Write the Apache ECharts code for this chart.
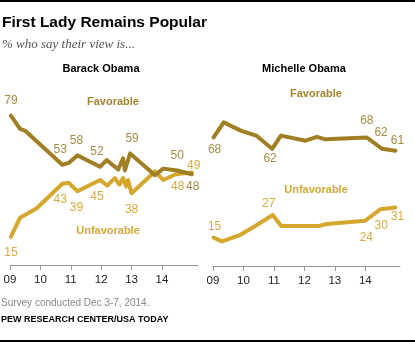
<!DOCTYPE html>
<html>
<head>
<meta charset="utf-8">
<script src="https://cdn.jsdelivr.net/npm/echarts@6/dist/echarts.min.js"></script>
<style>
html,body{margin:0;padding:0;background:#fff;}
#c{width:415px;height:343px;}
</style>
</head>
<body>
<div id="c"></div>
<script>
// ---- Data (survey date as decimal year, % value) ----
const yearTicks = [2009, 2010, 2011, 2012, 2013, 2014];

const barackFavDates   = [2009.03, 2009.33, 2009.5, 2010.72, 2010.93, 2011.22, 2011.96, 2012.18, 2012.56, 2012.72, 2012.78, 2012.95, 2013.77, 2014.04, 2014.5, 2014.98];
const barackFavValues  = [79, 72, 71, 53, 54, 58, 52, 55.5, 50.5, 56.5, 50, 59, 47.5, 51, 50, 48];
const barackFavLabelIdx = [0, 3, 5, 6, 11, 14, 15];

const barackUnfDates   = [2009.03, 2009.33, 2009.88, 2010.72, 2010.93, 2011.22, 2011.96, 2012.2, 2012.45, 2012.6, 2012.72, 2012.82, 2012.88, 2013.0, 2013.77, 2014.04, 2014.45, 2014.98];
const barackUnfValues  = [15, 25, 30, 43, 43.5, 39, 45, 42, 46, 42.5, 46, 41.5, 45, 38, 49.5, 45, 48, 49];
const barackUnfLabelIdx = [0, 3, 5, 6, 13, 16, 17];

const michelleFavDates  = [2009.02, 2009.35, 2009.93, 2010.42, 2010.94, 2011.23, 2012.04, 2012.41, 2012.69, 2014.05, 2014.55, 2014.99];
const michelleFavValues = [68, 76, 71.5, 69, 62, 69, 66.3, 68.3, 67, 68, 62, 61];
const michelleFavLabelIdx = [0, 4, 9, 10, 11];

const michelleUnfDates  = [2009.02, 2009.3, 2009.9, 2010.44, 2010.96, 2011.24, 2012.47, 2012.74, 2014.0, 2014.49, 2014.99];
const michelleUnfValues = [15, 13, 16.5, 21.7, 27, 21.2, 21.2, 22.2, 24, 30, 31];
const michelleUnfLabelIdx = [0, 4, 8, 9, 10];

// ---- Styles ----
const FONT = 'Liberation Sans, Arial, sans-serif';
const FAV = '#a07e24';
const UNF = '#d5a72e';
const FAV_TXT = '#a58c45';
const UNF_TXT = '#d6ac40';

// label offsets (pixels, style only)
const offBF = [[0,-15],[-2,-15],[-1,-15],[-3,-15],[2,-15],[0,-15],[1,12]];
const offBU = [[0,16],[-2,16],[-1,16],[-3,17],[0,17],[2,12],[2,-7]];
const offMF = [[1,12],[-2,10],[0,-17],[-1,-16],[2,-10]];
const offMU = [[1,-11],[-4,-11],[1,17],[1,16],[2,9]];

function pairs(d, v){ return d.map((x,i)=>[x, v[i]]); }
function marks(d, v, idx, offs){
  return idx.map((k,j)=>({coord:[d[k], v[k]], value: Math.round(v[k]), label:{offset: offs[j]}}));
}
function lineSeries(ax, d, v, idx, offs, color, txt, z){
  return {
    type:'line', xAxisIndex:ax, yAxisIndex:ax, data: pairs(d, v), symbol:'none', z:z,
    lineStyle:{width:4, color:color, cap:'round', join:'round'},
    silent:true,
    markPoint:{
      symbol:'circle', symbolSize:0, silent:true,
      label:{show:true, position:'inside', color:txt, fontSize:12, fontFamily:FONT, formatter:'{c}'},
      data: marks(d, v, idx, offs)
    }
  };
}
function xAxis(gi, max){
  return {
    type:'value', gridIndex:gi, min:2009, max:max, interval:1,
    axisLine:{show:true, lineStyle:{color:'#999', width:1}},
    axisTick:{show:true, length:5, lineStyle:{color:'#999'}, customValues: yearTicks},
    axisLabel:{show:true, customValues: yearTicks, margin:9, color:'#222', fontSize:11.5, fontFamily:FONT,
      formatter: v => String(Math.round(v)).slice(2)},
    splitLine:{show:false}
  };
}
function yAxis(gi){
  return {type:'value', gridIndex:gi, min:0, max:100, show:false, splitLine:{show:false}};
}
function txt(text, x, y, size, color, weight, align, family, style){
  return {type:'text', x:x, y:y, silent:true, style:{text:text, fill:color, fontSize:size, fontWeight:weight||'normal',
    fontStyle: style||'normal', fontFamily: family||FONT, align: align||'left', verticalAlign:'middle'}};
}

const chart = echarts.init(document.getElementById('c'), null, {renderer:'canvas'});
chart.setOption({
  animation:false,
  backgroundColor:'#fff',
  grid:[
    {left:10, top:76, width:188, height:189},
    {left:213, top:77, width:187, height:189}
  ],
  xAxis:[xAxis(0, 2009 + 188/30.4), xAxis(1, 2009 + 187/30.46)],
  yAxis:[yAxis(0), yAxis(1)],
  series:[
    lineSeries(0, barackUnfDates, barackUnfValues, barackUnfLabelIdx, offBU, UNF, UNF_TXT, 2),
    lineSeries(0, barackFavDates, barackFavValues, barackFavLabelIdx, offBF, FAV, FAV_TXT, 3),
    lineSeries(1, michelleUnfDates, michelleUnfValues, michelleUnfLabelIdx, offMU, UNF, UNF_TXT, 2),
    lineSeries(1, michelleFavDates, michelleFavValues, michelleFavLabelIdx, offMF, FAV, FAV_TXT, 3)
  ],
  graphic:[
    {type:'rect', shape:{x:0, y:0, width:415, height:2}, style:{fill:'#000'}, silent:true},
    {type:'rect', shape:{x:0, y:340, width:415, height:2}, style:{fill:'#000'}, silent:true},
    txt('First Lady Remains Popular', 2, 23, 15.5, '#000', 'bold'),
    txt('% who say their view is...', 2, 45, 13, '#555', 'normal', 'left', 'Liberation Serif, serif', 'italic'),
    txt('Barack Obama', 101, 69, 11, '#000', 'bold', 'center'),
    txt('Michelle Obama', 304, 69, 11, '#000', 'bold', 'center'),
    txt('Favorable', 113, 102, 11, '#a4842f', 'bold', 'center'),
    txt('Unfavorable', 108, 231, 11, '#d5a73a', 'bold', 'center'),
    txt('Favorable', 316, 94, 11, '#a4842f', 'bold', 'center'),
    txt('Unfavorable', 316, 190, 11, '#d5a73a', 'bold', 'center'),
    txt('Survey conducted Dec 3-7, 2014.', 1, 303, 10, '#888', 'normal'),
    txt('PEW RESEARCH CENTER/USA TODAY', 1, 320, 9, '#000', 'bold')
  ]
});
</script>
</body>
</html>
